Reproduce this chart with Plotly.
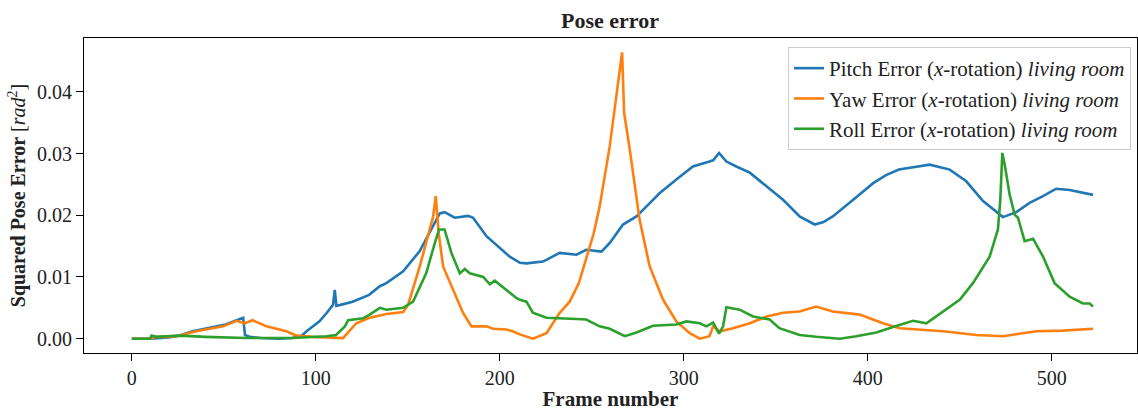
import plotly.graph_objects as go

# Frame indices and squared pose errors (rad^2) for each rotation axis
pitch_frames = [0, 10, 20, 26, 33, 44, 51, 57, 59, 60.5, 61.5, 64, 70, 80, 87, 92, 95, 102, 106,
                109.4, 110.3, 111.2, 115, 120, 129, 134.8, 138.4, 147.5, 156.5, 163.8, 167.4,
                170, 175.5, 182.8, 185.5, 192.8, 200, 205.4, 211, 214.5, 223.5, 232.6, 241.7,
                247, 255.3, 259.8, 267, 274.3, 281, 287, 296, 305, 314, 316, 319.2, 323.2, 328.6,
                335.9, 345, 354, 363, 371.2, 376, 381, 390, 396, 403, 410, 417, 423, 433.7,
                444.6, 453.6, 462.7, 473.5, 480.8, 488, 495.3, 502.5, 509.8, 522.5]
pitch_error = [0.0, 0.0, 0.0002, 0.0005, 0.0012, 0.0018, 0.0023, 0.0030, 0.0032, 0.0034, 0.0006,
               0.0003, 0.0001, 0.0, 0.0001, 0.0004, 0.0012, 0.0028, 0.0042, 0.0055, 0.0079,
               0.0053, 0.0056, 0.0060, 0.0071, 0.0085, 0.0090, 0.0109, 0.0142, 0.0182, 0.0203,
               0.0205, 0.0196, 0.0199, 0.0196, 0.0166, 0.0147, 0.0133, 0.0123, 0.0122, 0.0125,
               0.0139, 0.0136, 0.0144, 0.0141, 0.0155, 0.0185, 0.0198, 0.0218, 0.0236, 0.0258,
               0.0279, 0.0287, 0.0289, 0.0301, 0.0287, 0.0279, 0.0269, 0.0247, 0.0225, 0.0198,
               0.0185, 0.0189, 0.0198, 0.0220, 0.0235, 0.0252, 0.0265, 0.0274, 0.0277, 0.0282,
               0.0274, 0.0255, 0.0223, 0.0197, 0.0205, 0.0220, 0.0231, 0.0243, 0.0241, 0.0233]

yaw_frames = [0, 9.8, 13.4, 18.9, 26, 35, 49.6, 57, 61.4, 65.6, 73.2, 84, 89.5, 98.6, 114.8,
              122, 129.3, 138.4, 147.5, 150.2, 156.5, 162, 163.8, 165.2, 166.8, 169.2, 174.6,
              180, 184.6, 192.8, 196.4, 203.6, 207, 210.9, 218, 225.4, 232.6, 238, 243, 247,
              251, 254.3, 259.8, 264.3, 266.5, 267.6, 270.7, 276, 281.5, 288.8, 296, 303.3,
              308.7, 314, 316, 319.6, 326.8, 335.9, 345, 354, 363, 372, 381, 395.7, 408.3,
              417.4, 422.8, 441, 459, 473.5, 491.7, 506, 522.5]
yaw_error = [0.0, 0.0, 0.0003, 0.0003, 0.0005, 0.0012, 0.0020, 0.0029, 0.0025, 0.0030, 0.0020,
             0.0012, 0.0005, 0.0003, 0.0001, 0.0025, 0.0034, 0.0040, 0.0043, 0.0055, 0.0117,
             0.0177, 0.0198, 0.0231, 0.0171, 0.0117, 0.0079, 0.0042, 0.0020, 0.0020, 0.0016,
             0.0015, 0.0012, 0.0007, 0.0, 0.0009, 0.0042, 0.0060, 0.0090, 0.0128, 0.0170,
             0.0214, 0.0312, 0.0414, 0.0464, 0.0366, 0.0306, 0.0193, 0.0117, 0.0063, 0.0028,
             0.0009, 0.0, 0.0004, 0.0020, 0.0012, 0.0017, 0.0025, 0.0036, 0.0042, 0.0044,
             0.0052, 0.0044, 0.0039, 0.0025, 0.0017, 0.0016, 0.0012, 0.0006, 0.0004, 0.0012,
             0.0013, 0.0016]

roll_frames = [0, 10, 10.7, 13.4, 18.9, 26, 40, 62, 87.5, 100, 105.8, 111, 115.8, 117.6, 125.7,
               129.3, 134.8, 138.4, 147.5, 152.9, 160, 164.7, 167, 170, 173.7, 178.3, 181,
               183.7, 191, 194.6, 197.3, 203.6, 209, 211, 214.5, 218, 225.4, 241.7, 247, 254.3,
               259.8, 268, 274.3, 283.3, 296, 301.5, 308.7, 312.3, 316, 319.2, 321.4, 323.2,
               330.4, 337.7, 346.7, 352, 363, 372, 384.8, 393.8, 404.7, 413.8, 424.6, 431.9,
               441, 450, 457.2, 466.3, 470.8, 472.1, 473.2, 474.5, 477.2, 479.9, 481.7, 485.3,
               489.9, 495.3, 501.6, 509.8, 517, 520.7, 522.5]
roll_error = [0.0, 0.0, 0.0005, 0.0003, 0.0004, 0.0005, 0.0003, 0.0001, 0.0001, 0.0003, 0.0004,
              0.0006, 0.0020, 0.0030, 0.0033, 0.0039, 0.0050, 0.0047, 0.0050, 0.0060, 0.0106,
              0.0155, 0.0177, 0.0177, 0.0139, 0.0106, 0.0113, 0.0106, 0.0100, 0.0088, 0.0094,
              0.0079, 0.0066, 0.0063, 0.0060, 0.0042, 0.0034, 0.0032, 0.0031, 0.0020, 0.0016,
              0.0004, 0.0010, 0.0021, 0.0023, 0.0028, 0.0025, 0.0020, 0.0026, 0.0008, 0.0020,
              0.0051, 0.0047, 0.0036, 0.0031, 0.0017, 0.0006, 0.0003, 0.0, 0.0004, 0.0010,
              0.0019, 0.0029, 0.0025, 0.0044, 0.0063, 0.0090, 0.0133, 0.0177, 0.0225, 0.0301,
              0.0282, 0.0233, 0.0201, 0.0196, 0.0158, 0.0162, 0.0133, 0.0090, 0.0068, 0.0057,
              0.0057, 0.0052]

series_names = [
    "Pitch Error (<i>x</i>-rotation) <i>living room</i>",
    "Yaw Error (<i>x</i>-rotation) <i>living room</i>",
    "Roll Error (<i>x</i>-rotation) <i>living room</i>",
]
x_ticks = [0, 100, 200, 300, 400, 500]
y_ticks = [0.00, 0.01, 0.02, 0.03, 0.04]

colors = ["#1f77b4", "#ff7f0e", "#2ca02c"]
FONT = "Liberation Serif"

fig = go.Figure()
for xs, ys, name, col in zip([pitch_frames, yaw_frames, roll_frames],
                             [pitch_error, yaw_error, roll_error],
                             series_names, colors):
    fig.add_trace(go.Scatter(x=xs, y=ys, mode="lines", name=name,
                             line=dict(color=col, width=2.6)))

axis_common = dict(
    showline=True, linecolor="black", linewidth=1.2, mirror=True,
    ticks="outside", ticklen=7, tickwidth=1, tickcolor="black",
    showgrid=False, zeroline=False,
    tickfont=dict(family=FONT, size=20, color="#222"),
)

fig.update_layout(
    width=1138, height=411,
    margin=dict(l=84, r=1, t=38, b=58),
    paper_bgcolor="white", plot_bgcolor="white",
    font=dict(family=FONT, size=20, color="#222"),
    title=dict(text="<b>Pose error</b>", x=0.536, xanchor="center",
               y=1 - 20 / 411, yanchor="middle", yref="container",
               font=dict(family=FONT, size=22, color="#222")),
    xaxis=dict(range=[-26.0, 546.4], tickvals=x_ticks,
               ticktext=[str(v) for v in x_ticks],
               title=dict(text="<b>Frame number</b>", standoff=5,
                          font=dict(family=FONT, size=21, color="#222")),
               **axis_common),
    yaxis=dict(range=[-0.00232, 0.04872], tickvals=y_ticks,
               ticktext=[f"{v:.2f}" for v in y_ticks],
               title=dict(text="<b>Squared Pose Error</b> [<i>rad</i><sup>2</sup>]",
                          standoff=5,
                          font=dict(family=FONT, size=20, color="#222")),
               **axis_common),
    legend=dict(x=0.9943, y=0.9714, xanchor="right", yanchor="top",
                bgcolor="rgba(255,255,255,0.8)", bordercolor="#cccccc",
                borderwidth=1, font=dict(family=FONT, size=21, color="#222"),
                tracegroupgap=0),
    showlegend=True,
)

fig.write_html("out.html")
